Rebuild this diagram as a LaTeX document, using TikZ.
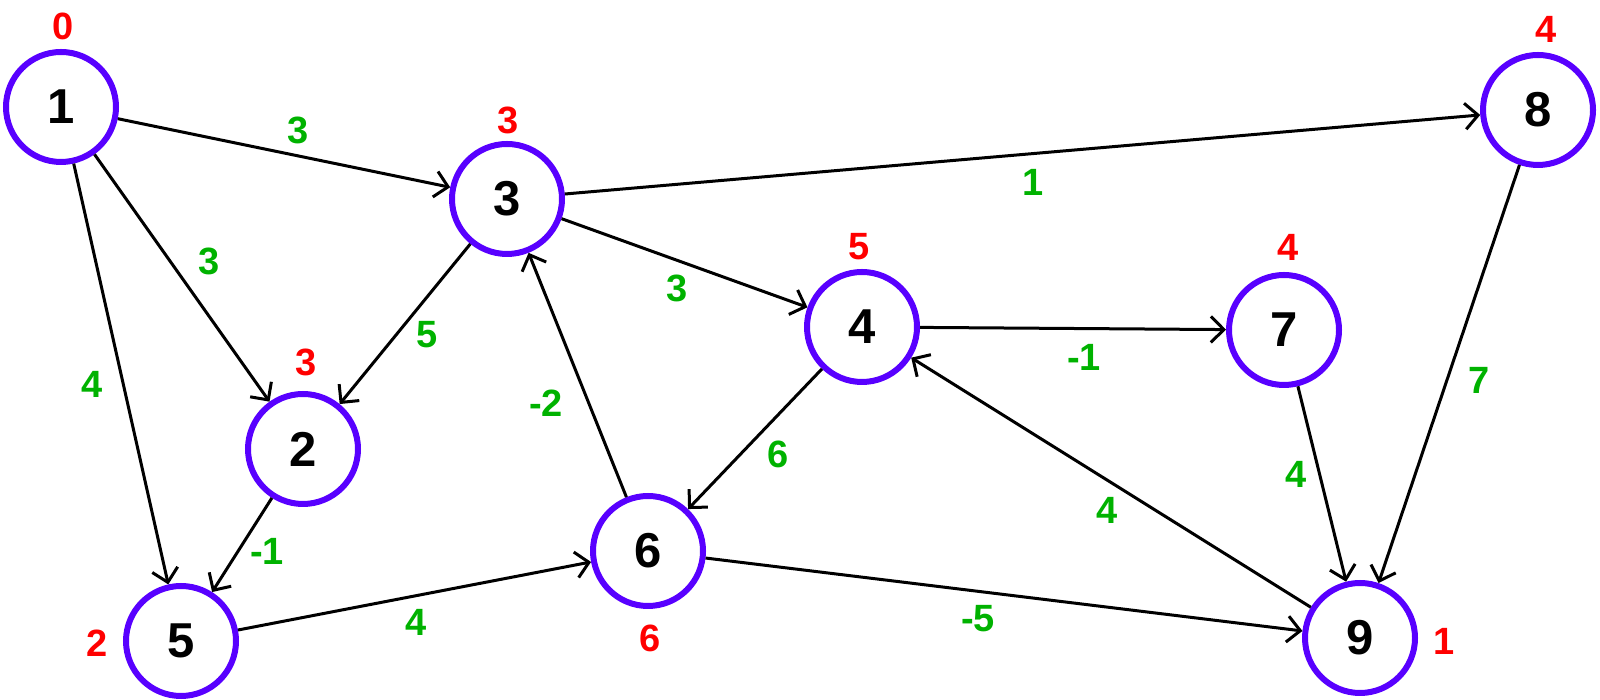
\documentclass[tikz,border=0pt]{standalone}
\usepackage{fontspec}
\setmainfont{Liberation Sans}
\usetikzlibrary{arrows.meta}
\definecolor{ringviolet}{RGB}{88,0,255}
\definecolor{wgreen}{RGB}{0,178,0}
\definecolor{dred}{RGB}{255,0,0}
\begin{document}
\begin{tikzpicture}[x=1pt,y=1pt,->,>={Straight Barb[length=13pt,width=26pt]},line width=3pt,
    main node/.style={circle,draw=ringviolet,line width=6pt,minimum size=110pt,inner sep=0pt,font=\fontsize{49}{49}\selectfont\bfseries},
    dist/.style={text=dred,inner sep=0pt,font=\fontsize{38}{38}\selectfont\bfseries},
    wt/.style={text=wgreen,inner sep=0pt,font=\fontsize{38}{38}\selectfont\bfseries}]
    \useasboundingbox (0,0) rectangle (1600,700);

            \node[main node] (1) at (61,593) {1};
            \node[main node] (2) at (303,251) {2};
            \node[main node] (3) at (507,501) {3};
            \node[main node] (4) at (862,373) {4};
            \node[main node] (5) at (181,59) {5};
            \node[main node] (6) at (648,149) {6};
            \node[main node] (7) at (1284,370) {7};
            \node[main node] (8) at (1538,590) {8};
            \node[main node] (9) at (1360,62) {9};

            % distances
            \node[dist] (d1) at (63,674) {0};
            \node[dist] (d2) at (306,338) {3};
            \node[dist] (d3) at (508,580) {3};
            \node[dist] (d4) at (859,453) {5};
            \node[dist] (d5) at (97,57) {2};
            \node[dist] (d6) at (650,62) {6};
            \node[dist] (d7) at (1288,453) {4};
            \node[dist] (d8) at (1546,671) {4};
            \node[dist] (d9) at (1444,59) {1};

            \draw (1) to (3);
            \draw (1) to (2);
            \draw (1) to (5);
            \draw (3) to (2);
            \draw (3) to (8);
            \draw (3) to (4);
            \draw (6) to (3);
            \draw (4) to (7);
            \draw (4) to (6);
            \draw (2) to (5);
            \draw (5) to (6);
            \draw (6) to (9);
            \draw (9) to (4);
            \draw (7) to (9);
            \draw (8) to (9);

            % weights
            \node[wt] (w13) at (298,570) {3};
            \node[wt] (w12) at (209,439) {3};
            \node[wt] (w15) at (92,316) {4};
            \node[wt] (w32) at (427,365) {5};
            \node[wt] (w38) at (1033,518) {1};
            \node[wt] (w34) at (677,412) {3};
            \node[wt] (w63) at (546,297) {-2};
            \node[wt] (w47) at (1084,343) {-1};
            \node[wt] (w46) at (778,246) {6};
            \node[wt] (w25) at (267,149) {-1};
            \node[wt] (w56) at (416,78) {4};
            \node[wt] (w69) at (978,81) {-5};
            \node[wt] (w94) at (1107,190) {4};
            \node[wt] (w79) at (1296,226) {4};
            \node[wt] (w89) at (1479,320) {7};
        \end{tikzpicture}
\end{document}
